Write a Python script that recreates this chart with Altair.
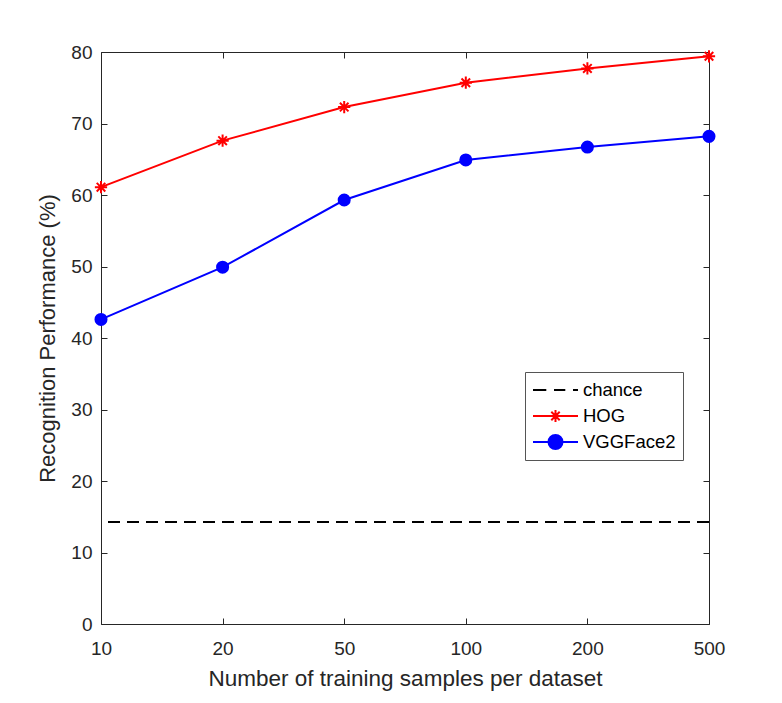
import altair as alt
import pandas as pd

# Training-set sizes (equally spaced categories) and recognition rates (%)
samples = ["10", "20", "50", "100", "200", "500"]
hog = [61.1, 67.6, 72.3, 75.7, 77.7, 79.4]
vggface2 = [42.6, 49.9, 59.3, 64.9, 66.7, 68.2]
chance = 14.29
series_names = ["chance", "HOG", "VGGFace2"]
series_colors = ["#000000", "#FF0000", "#0000FF"]
y_ticks = [0, 10, 20, 30, 40, 50, 60, 70, 80]

df = pd.DataFrame({
    "n": samples * 2,
    "value": hog + vggface2,
    "series": ["HOG"] * len(samples) + ["VGGFace2"] * len(samples),
})
legend_df = pd.DataFrame({"series": series_names})

FONT = "Liberation Sans"
INK = "#262626"

xscale = alt.Scale(type="point", padding=0)
yscale = alt.Scale(domain=[0, 80], nice=False, zero=True)

# Inward ticks: axes pulled into the plot by the tick length, ticks point outward
bottom_axis = alt.Axis(orient="bottom", offset=-6, tickSize=6, domain=False,
                       labelAngle=0, labelPadding=15, labelFontSize=19,
                       title="Number of training samples per dataset",
                       titleFontSize=22.5, titlePadding=9, grid=False)
left_axis = alt.Axis(orient="left", offset=-6, tickSize=6, domain=False,
                     values=y_ticks, labelPadding=9, labelFontSize=19,
                     title="Recognition Performance (%)",
                     titleFontSize=22, titlePadding=11, grid=False)
top_axis = alt.Axis(orient="top", offset=-6, tickSize=6, domain=False,
                    labels=False, title=None, grid=False)
right_axis = alt.Axis(orient="right", offset=-6, tickSize=6, domain=False,
                      values=y_ticks, labels=False, title=None, grid=False)

base = alt.Chart(df)

hog_line = base.transform_filter(alt.datum.series == "HOG").mark_line(
    color="#FF0000", strokeWidth=2
).encode(
    x=alt.X("n:O", sort=samples, scale=xscale, axis=bottom_axis),
    y=alt.Y("value:Q", scale=yscale, axis=left_axis),
)

vgg_line = base.transform_filter(alt.datum.series == "VGGFace2").mark_line(
    color="#0000FF", strokeWidth=2
).encode(
    x=alt.X("n:O", sort=samples, scale=xscale, axis=top_axis),
    y=alt.Y("value:Q", scale=yscale, axis=right_axis),
)

asterisk = "M-1,0H1M0,-1V1M-0.7,-0.7L0.7,0.7M-0.7,0.7L0.7,-0.7"

hog_pts = base.transform_filter(alt.datum.series == "HOG").mark_point(
    shape=asterisk, size=150, stroke="#FF0000", strokeWidth=2, filled=False,
    opacity=1
).encode(
    x=alt.X("n:O", sort=samples, scale=xscale, axis=None),
    y=alt.Y("value:Q", scale=yscale, axis=None),
)

vgg_pts = base.transform_filter(alt.datum.series == "VGGFace2").mark_point(
    shape="circle", size=170, filled=True, fill="#0000FF", opacity=1
).encode(
    x=alt.X("n:O", sort=samples, scale=xscale, axis=None),
    y=alt.Y("value:Q", scale=yscale, axis=None),
)

chance_rule = alt.Chart(df).mark_rule(
    color="#000000", strokeWidth=1.6, strokeDash=[12, 7]
).encode(y=alt.Y(datum=chance, scale=yscale, axis=None))

# Legend glyphs: line sample with marker, in units of 10 px
legend_shapes = [
    "M-1,0H0.33M1.1,0H2.23M3,0H3.5",
    "M-1,0H3.5M0.65,0H1.85M1.25,-0.6V0.6M0.83,-0.42L1.67,0.42M0.83,0.42L1.67,-0.42",
    "M-1,0H3.5M1.95,0A0.7,0.7,0,1,1,0.55,0A0.7,0.7,0,1,1,1.95,0Z",
]

legend = alt.Legend(
    title=None, orient="none", legendX=424, legendY=320,
    fillColor="#FFFFFF", strokeColor="#555555",
    padding=7, rowPadding=5, symbolSize=400, symbolStrokeWidth=2,
    symbolOpacity=1,
    labelOffset=29, labelFontSize=18.5, labelFont=FONT, labelColor="#000000",
)

legend_layer = alt.Chart(legend_df).transform_filter("false").mark_point(
    size=400, strokeWidth=2, opacity=1
).encode(
    fill=alt.Fill("series:N", sort=series_names,
                  scale=alt.Scale(domain=series_names, range=series_colors),
                  legend=legend),
    stroke=alt.Stroke("series:N", sort=series_names,
                      scale=alt.Scale(domain=series_names, range=series_colors),
                      legend=legend),
    shape=alt.Shape("series:N", sort=series_names,
                    scale=alt.Scale(domain=series_names, range=legend_shapes),
                    legend=legend),
)

chart = alt.layer(
    chance_rule, hog_line, vgg_line, hog_pts, vgg_pts, legend_layer
).resolve_axis(
    x="independent", y="independent"
).properties(
    width=608, height=572,
    autosize=alt.AutoSizeParams(type="none"),
    padding={"left": 101, "top": 52, "right": 73, "bottom": 79},
    background="#FFFFFF",
).configure_view(
    stroke=INK, strokeWidth=1
).configure_axis(
    labelFont=FONT, titleFont=FONT, labelColor=INK, titleColor=INK,
    tickColor=INK, tickWidth=1, titleFontWeight="normal",
)

chart.save("out.html", embed_options={"renderer": "svg", "actions": False})
